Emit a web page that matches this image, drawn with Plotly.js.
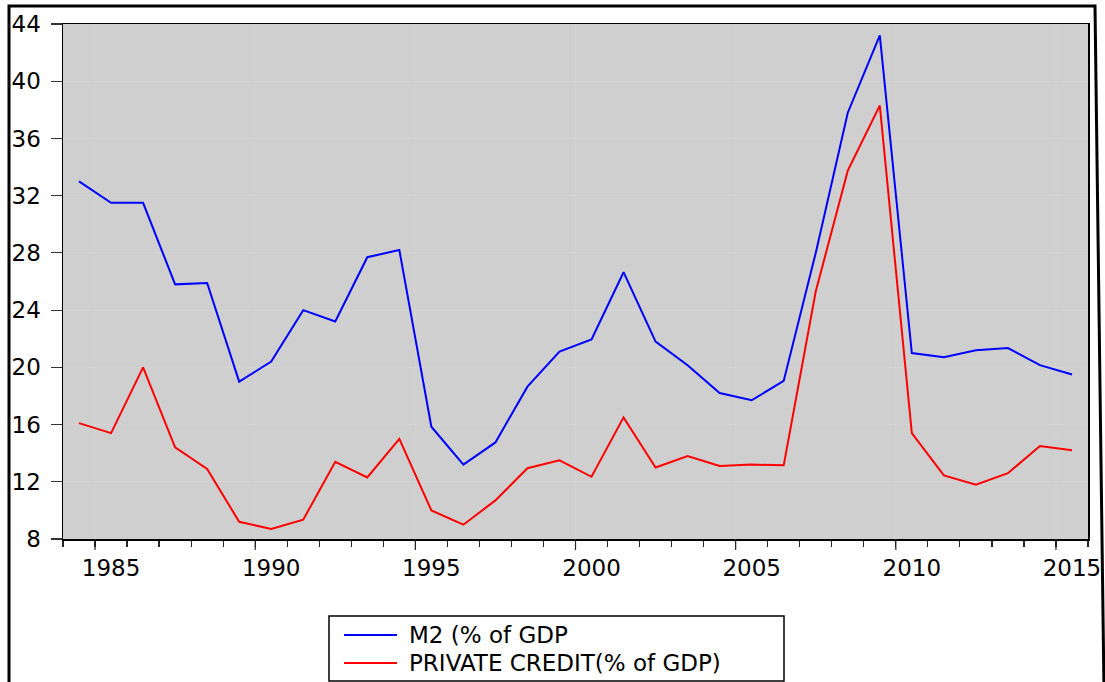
<!DOCTYPE html>
<html>
<head>
<meta charset="utf-8">
<script src="https://cdn.plot.ly/plotly-3.0.1.min.js"></script>
<style>
  html, body { margin: 0; padding: 0; background: #ffffff; }
  #chart { width: 1105px; height: 682px; }
</style>
</head>
<body>
<div id="chart"></div>
<script>
// ---- data ----
const years = [1984, 1985, 1986, 1987, 1988, 1989, 1990, 1991, 1992, 1993, 1994,
               1995, 1996, 1997, 1998, 1999, 2000, 2001, 2002, 2003, 2004, 2005,
               2006, 2007, 2008, 2009, 2010, 2011, 2012, 2013, 2014, 2015];
const m2 = [33.0, 31.5, 31.5, 25.8, 25.9, 19.0, 20.4, 24.0, 23.2, 27.7, 28.2,
            15.85, 13.2, 14.75, 18.65, 21.1, 21.95, 26.65, 21.8, 20.15, 18.2, 17.7,
            19.05, 28.0, 37.8, 43.2, 21.0, 20.7, 21.2, 21.35, 20.15, 19.5];
const privateCredit = [16.1, 15.4, 20.0, 14.4, 12.9, 9.2, 8.7, 9.35, 13.4, 12.3, 15.0,
                       10.0, 9.0, 10.7, 12.95, 13.5, 12.35, 16.5, 13.0, 13.8, 13.1, 13.2,
                       13.15, 25.3, 33.75, 38.3, 15.4, 12.45, 11.8, 12.6, 14.5, 14.2];
const labelYears = [1985, 1990, 1995, 2000, 2005, 2010, 2015];
const labelText = ['1985', '1990', '1995', '2000', '2005', '2010', '2015'];
const yTicks = [8, 12, 16, 20, 24, 28, 32, 36, 40, 44];
const seriesNames = ['M2 (% of GDP', 'PRIVATE CREDIT(% of GDP)'];
const seriesColors = ['#0000ff', '#ff0000'];

// ---- layout helpers (pixel -> paper) ----
const W = 1105, H = 682;
const M = { l: 63, r: 17, t: 24, b: 143 };
const PW = W - M.l - M.r, PH = H - M.t - M.b;
const px = x => (x - M.l) / PW;
const py = y => (H - M.b - y) / PH;

const FONT = 'DejaVu Sans, Liberation Sans, Arial, sans-serif';

const traces = [
  { x: years, y: m2, name: seriesNames[0], type: 'scatter', mode: 'lines',
    line: { color: seriesColors[0], width: 2 } },
  { x: years, y: privateCredit, name: seriesNames[1], type: 'scatter', mode: 'lines',
    line: { color: seriesColors[1], width: 2 } }
];

const firstYear = years[0], lastYear = years[years.length - 1];
// long ticks sit on the boundary before each labelled year
const majorBounds = labelYears.map(v => v - 0.5);
const majorTickShapes = majorBounds.map(b => ({
  type: 'line', xref: 'x', yref: 'paper', x0: b, x1: b, y0: 0, y1: -11 / PH,
  line: { color: '#222222', width: 1.2 }
}));
const gridShapes = majorBounds.map(b => ({
  type: 'line', xref: 'x', yref: 'paper', x0: b, x1: b, y0: 0, y1: 1,
  line: { color: '#d4d4d4', width: 1 }, layer: 'below'
}));

// manual legend
const legendRowsY = [635, 663];
const legendShapes = seriesNames.map((n, i) => ({
  type: 'line', xref: 'paper', yref: 'paper',
  x0: px(344), x1: px(397), y0: py(legendRowsY[i]), y1: py(legendRowsY[i]),
  line: { color: seriesColors[i], width: 2 }
}));
const legendAnnotations = seriesNames.map((n, i) => ({
  text: n, xref: 'paper', yref: 'paper', showarrow: false,
  x: px(407), xanchor: 'left', y: py(legendRowsY[i]), yanchor: 'middle',
  font: { family: FONT, size: 23, color: '#000000' }
}));

const layout = {
  width: W, height: H,
  margin: M,
  paper_bgcolor: '#ffffff',
  plot_bgcolor: '#cfcfcf',
  font: { family: FONT, size: 23, color: '#000000' },
  showlegend: false,
  xaxis: {
    range: [firstYear - 0.5, lastYear + 0.5],
    tickmode: 'array', tickvals: labelYears, ticktext: labelText,
    ticks: '', showgrid: false, zeroline: false,
    minor: { tickmode: 'linear', tick0: firstYear - 0.5, dtick: 1, ticks: 'outside', ticklen: 6,
             tickwidth: 1.2, tickcolor: '#222222', showgrid: false },
    showline: true, linecolor: '#000000', linewidth: 1.5, mirror: true,
    tickfont: { family: FONT, size: 23, color: '#000000' },
    ticklabelstandoff: 8,
    fixedrange: true
  },
  yaxis: {
    range: [8, 44],
    tickmode: 'array', tickvals: yTicks,
    ticks: 'outside', ticklen: 11, tickwidth: 1.2, tickcolor: '#333333',
    showgrid: true, gridcolor: '#d4d4d4', gridwidth: 1, zeroline: false,
    showline: true, linecolor: '#000000', linewidth: 1.5, mirror: true,
    tickfont: { family: FONT, size: 23, color: '#000000' },
    ticklabelstandoff: 5,
    fixedrange: true
  },
  annotations: legendAnnotations,
  shapes: [
    // outer frame
    { type: 'path', xref: 'paper', yref: 'paper',
      path: `M ${px(9)} ${py(690)} L ${px(9)} ${py(6)} L ${px(1095)} ${py(6)} L ${px(1104)} ${py(690)}`,
      line: { color: '#000000', width: 3 }, layer: 'above' },
    // legend box
    { type: 'rect', xref: 'paper', yref: 'paper',
      x0: px(329), x1: px(784), y0: py(681), y1: py(616),
      line: { color: '#000000', width: 1.5 }, fillcolor: 'rgba(0,0,0,0)' }
  ].concat(gridShapes, majorTickShapes, legendShapes)
};

Plotly.newPlot('chart', traces, layout, { displayModeBar: false, staticPlot: true });
</script>
</body>
</html>
